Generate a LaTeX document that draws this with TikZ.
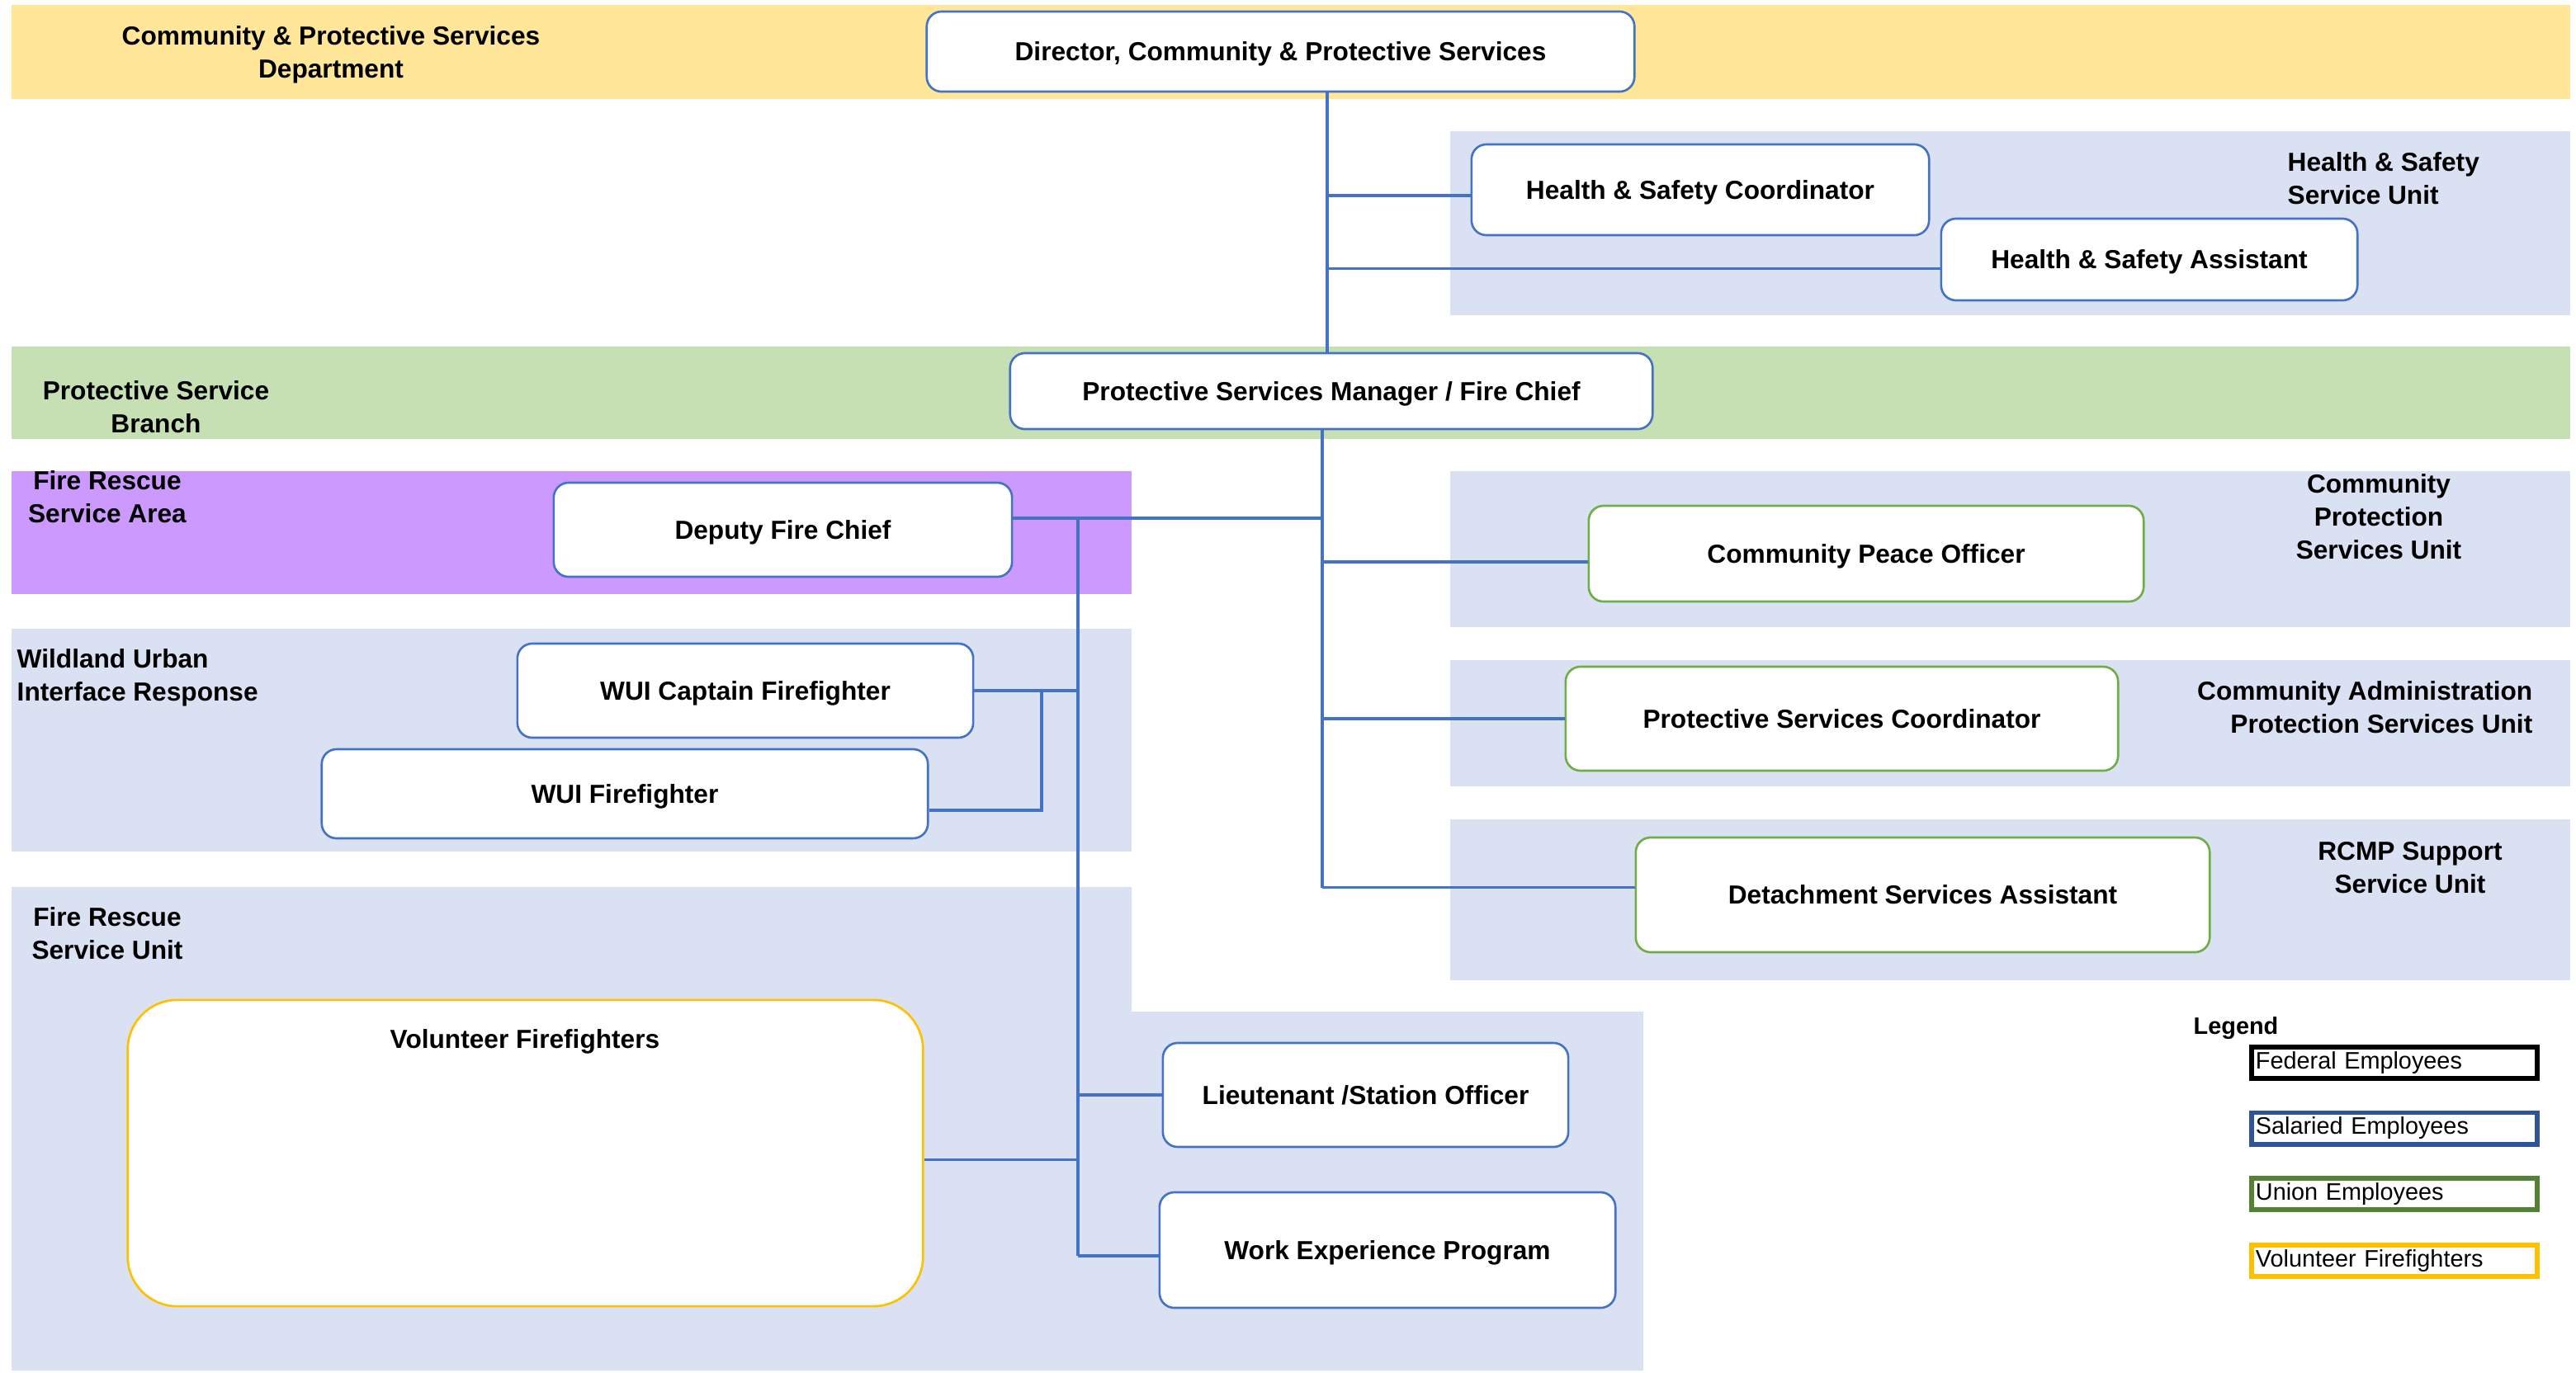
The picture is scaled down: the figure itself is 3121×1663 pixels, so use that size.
\documentclass[tikz,border=0pt]{standalone}
\usepackage{fontspec}
\setmainfont{Liberation Sans}
\usetikzlibrary{calc}
\definecolor{bandyellow}{HTML}{FFE699}
\definecolor{bandgreen}{HTML}{C6E0B4}
\definecolor{bandpurple}{HTML}{CC99FF}
\definecolor{bandblue}{HTML}{DAE1F2}
\definecolor{salblue}{HTML}{4472C4}
\definecolor{unigreen}{HTML}{70AD47}
\definecolor{volgold}{HTML}{FFC000}
\definecolor{legblue}{HTML}{2F5597}
\definecolor{leggreen}{HTML}{548235}
\begin{document}
\begin{tikzpicture}[x=0.01cm,y=-0.01cm,
  every node/.style={font=\fontsize{9}{11.4}\selectfont\bfseries},
  post/.style={draw=salblue, line width=0.75pt, fill=white, rounded corners=0.18cm, align=center,
    inner sep=0pt, text height=6.5pt, text depth=0pt},
  unionpost/.style={post, draw=unigreen},
  conn/.style={draw=salblue, line width=1pt},
  bandlabel/.style={inner sep=0pt},
  legbox/.style={fill=white, line width=1.7pt, minimum height=0.38cm, text width=3.36cm,
    inner xsep=0.05cm, inner ysep=0pt, align=left, font=\fontsize{8.2}{10}\selectfont}
]
\useasboundingbox (0,0) rectangle (3121,1663);

% ---- bands ----
\fill[bandyellow] (14,6) rectangle (3114,120);
\fill[bandblue] (1757,159) rectangle (3114,382);
\fill[bandgreen] (14,420) rectangle (3114,532);
\fill[bandpurple] (14,571) rectangle (1371,720);
\fill[bandblue] (1757,571) rectangle (3114,760);
\fill[bandblue] (14,762) rectangle (1371,1032);
\fill[bandblue] (1757,800) rectangle (3114,953);
\fill[bandblue] (1757,993) rectangle (3114,1188);
\fill[bandblue] (14,1075) -- (1371,1075) -- (1371,1226) -- (1991,1226)
  -- (1991,1661) -- (14,1661) -- cycle;

% ---- band labels ----
\node[bandlabel, align=center] (lbdept) at (401,66) {Community \& Protective Services\\Department};
\node[bandlabel, align=left, anchor=west] (lbhs) at (2771,216) {Health \& Safety\\Service Unit};
\node[bandlabel, align=center] (lbpsb) at (189,493) {Protective Service\\Branch};
\node[bandlabel, align=center] (lbfrsa) at (130,602) {Fire Rescue\\Service Area};
\node[bandlabel, align=left, anchor=west] (lbwui) at (20,821) {Wildland Urban\\Interface Response};
\node[bandlabel, align=center] (lbfrsu) at (130,1131) {Fire Rescue\\Service Unit};
\node[bandlabel, align=center] (lbcps) at (2882,626) {Community\\Protection\\Services Unit};
\node[bandlabel, align=right, anchor=east] (lbcaps) at (3069,857) {Community Administration\\Protection Services Unit};
\node[bandlabel, align=center] (lbrcmp) at (2920,1052) {RCMP Support\\Service Unit};

% ---- positions ----
\node[post, minimum width=8.57cm, minimum height=0.97cm] (dir) at (1551.5,62.5) {Director, Community \& Protective Services};
\node[post, minimum width=5.54cm, minimum height=1.10cm] (hsc) at (2060,230) {Health \& Safety Coordinator};
\node[post, minimum width=5.04cm, minimum height=0.99cm] (hsa) at (2604,314.5) {Health \& Safety Assistant};
\node[post, minimum width=7.78cm, minimum height=0.92cm] (psm) at (1613,474) {Protective Services Manager / Fire Chief};
\node[post, minimum width=5.55cm, minimum height=1.14cm] (dfc) at (948.5,642) {Deputy Fire Chief};
\node[post, minimum width=5.52cm, minimum height=1.14cm] (wuic) at (903,837) {WUI Captain Firefighter};
\node[post, minimum width=7.34cm, minimum height=1.08cm] (wuif) at (757,962) {WUI Firefighter};
\node[post, draw=volgold, rounded corners=0.6cm, minimum width=9.63cm, minimum height=3.71cm] (vol) at (636.5,1397.5) {};
\node[bandlabel] (voltitle) at (636,1262) {Volunteer Firefighters};
\node[post, minimum width=4.91cm, minimum height=1.26cm] (lt) at (1654.5,1327) {Lieutenant /Station Officer};
\node[post, minimum width=5.52cm, minimum height=1.40cm] (wep) at (1681,1515) {Work Experience Program};
\node[unionpost, minimum width=6.72cm, minimum height=1.16cm] (cpo) at (2261,671) {Community Peace Officer};
\node[unionpost, minimum width=6.69cm, minimum height=1.26cm] (psc) at (2231.5,871) {Protective Services Coordinator};
\node[unionpost, minimum width=6.95cm, minimum height=1.39cm] (dsa) at (2329.5,1084.5) {Detachment Services Assistant};

% ---- reporting lines ----
\coordinate (ta) at (1608,0);
\coordinate (tb) at (1602,0);
\coordinate (tc) at (1306,0);
\coordinate (td) at (1262,0);
\coordinate (dfcjoin) at ($(dfc.east)+(0,-14)$);
\coordinate (wuifjoin) at ($(wuif.east)+(0,20)$);
\coordinate (hsajoin) at ($(hsa.west)+(0,11)$);
\coordinate (hscjoin) at ($(hsc.west)+(0,7)$);
\coordinate (cpojoin) at ($(cpo.west)+(0,10)$);
\coordinate (dsajoin) at ($(dsa.west)+(0,-9)$);
\coordinate (wepjoin) at ($(wep.west)+(0,7)$);
\coordinate (voljoin) at ($(vol.east)+(0,8)$);

\draw[conn] (ta |- dir.south) -- (ta |- psm.north);
\draw[conn] (ta |- hscjoin) -- (hscjoin);
\draw[conn] (ta |- hsajoin) -- (hsajoin);

\draw[conn] (tb |- psm.south) -- (tb |- dsajoin);
\draw[conn] (dfcjoin) -- (tb |- dfcjoin);
\draw[conn] (tb |- cpojoin) -- (cpojoin);
\draw[conn] (tb |- psc.west) -- (psc.west);
\draw[conn] (tb |- dsajoin) -- (dsajoin);

\draw[conn] (tc |- dfcjoin) -- (tc |- wepjoin);
\draw[conn] (wuic.east) -- (tc |- wuic.east);
\draw[conn] (td |- wuic.east) -- (td |- wuifjoin) -- (wuifjoin);
\draw[conn] (voljoin) -- (tc |- voljoin);
\draw[conn] (tc |- lt.west) -- (lt.west);
\draw[conn] (tc |- wepjoin) -- (wepjoin);

% ---- legend ----
\node[anchor=west, inner sep=0pt, font=\fontsize{8.2}{10}\selectfont\bfseries] (leg) at (2657,1246) {Legend};
\node[legbox, draw=black] (legfed) at (2901,1288) {Federal Employees};
\node[legbox, draw=legblue] (legsal) at (2901,1367.5) {Salaried Employees};
\node[legbox, draw=leggreen] (leguni) at (2901,1447) {Union Employees};
\node[legbox, draw=volgold] (legvol) at (2901,1528) {Volunteer Firefighters};
\end{tikzpicture}
\end{document}
